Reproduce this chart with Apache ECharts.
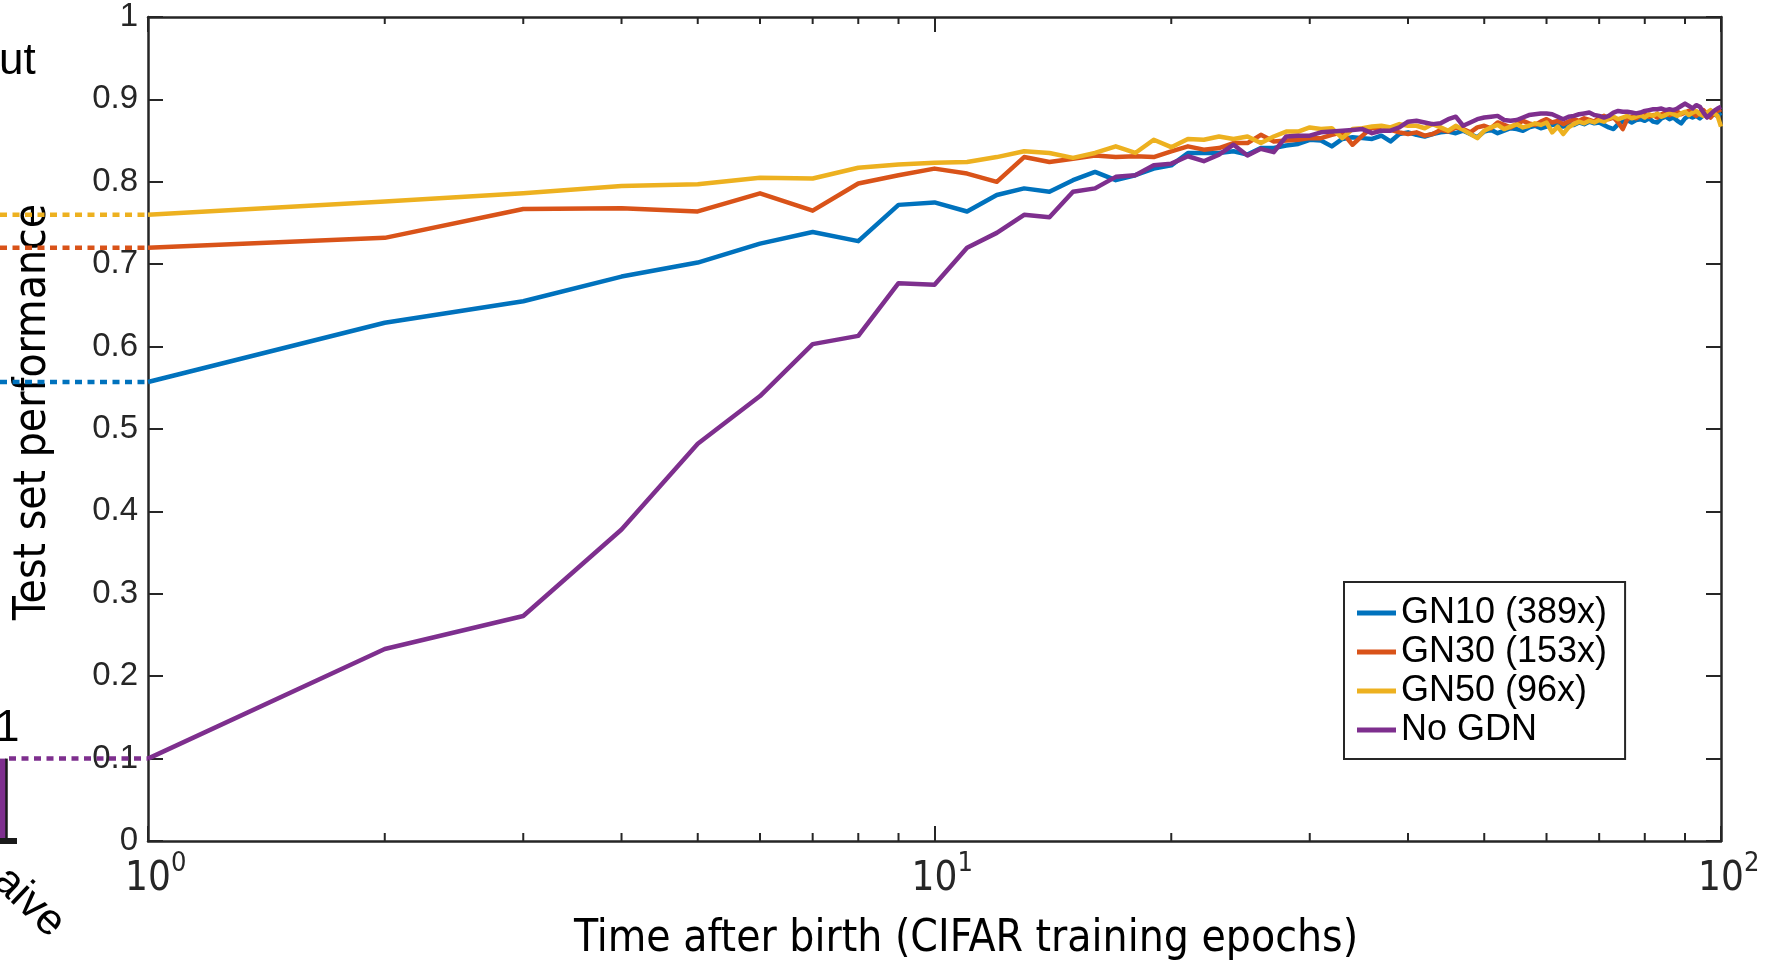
<!DOCTYPE html>
<html>
<head>
<meta charset="utf-8">
<script src="https://cdn.jsdelivr.net/npm/echarts@6/dist/echarts.min.js"></script>
<style>html,body{margin:0;padding:0;background:#fff}#c{width:1775px;height:968px}</style>
</head>
<body>
<div id="c"></div>
<script>
// ---------------- data ----------------
const epochs = [1,2,3,4,5,6,7,8,9,10,11,12,13,14,15,16,17,18,19,20,
  21,22,23,24,25,26,27,28,29,30,31,32,33,34,35,36,37,38,39,40,
  41,42,43,44,45,46,47,48,49,50,51,52,53,54,55,56,57,58,59,60,
  61,62,63,64,65,66,67,68,69,70,71,72,73,74,75,76,77,78,79,80,
  81,82,83,84,85,86,87,88,89,90,91,92,93,94,95,96,97,98,99,100];

const gn10 = [0.557,0.629,0.655,0.685,0.702,0.725,0.739,0.728,0.772,0.775,
  0.764,0.784,0.792,0.788,0.802,0.812,0.802,0.808,0.816,0.820,
  0.835,0.835,0.835,0.837,0.833,0.841,0.841,0.844,0.846,0.851,
  0.850,0.843,0.852,0.854,0.853,0.852,0.856,0.849,0.858,0.860,
  0.857,0.855,0.858,0.860,0.861,0.859,0.862,0.858,0.854,0.861,
  0.863,0.859,0.862,0.865,0.864,0.862,0.866,0.868,0.865,0.867,
  0.869,0.870,0.867,0.870,0.869,0.872,0.870,0.873,0.871,0.872,
  0.869,0.866,0.864,0.870,0.873,0.875,0.872,0.875,0.876,0.874,
  0.877,0.873,0.872,0.877,0.879,0.876,0.878,0.874,0.871,0.877,
  0.880,0.878,0.880,0.877,0.881,0.879,0.880,0.882,0.880,0.884];

const gn30 = [0.720,0.732,0.767,0.768,0.764,0.786,0.765,0.798,0.808,0.816,
  0.810,0.800,0.830,0.824,0.828,0.832,0.830,0.831,0.830,0.837,
  0.843,0.839,0.841,0.847,0.847,0.857,0.849,0.850,0.851,0.853,
  0.853,0.857,0.860,0.845,0.856,0.866,0.862,0.863,0.860,0.858,
  0.860,0.856,0.858,0.863,0.861,0.866,0.864,0.860,0.866,0.868,
  0.865,0.872,0.869,0.866,0.870,0.874,0.871,0.869,0.873,0.876,
  0.872,0.874,0.870,0.873,0.876,0.874,0.877,0.875,0.873,0.878,
  0.880,0.876,0.878,0.872,0.864,0.876,0.879,0.877,0.880,0.882,
  0.879,0.881,0.878,0.882,0.884,0.881,0.883,0.885,0.882,0.884,
  0.886,0.883,0.880,0.884,0.887,0.882,0.878,0.883,0.886,0.888];

const gn50 = [0.760,0.776,0.786,0.795,0.797,0.805,0.804,0.817,0.821,0.823,
  0.824,0.830,0.837,0.835,0.829,0.835,0.843,0.835,0.851,0.842,
  0.852,0.851,0.855,0.852,0.855,0.847,0.855,0.861,0.861,0.866,
  0.864,0.865,0.853,0.864,0.865,0.867,0.868,0.866,0.870,0.868,
  0.868,0.865,0.870,0.866,0.862,0.868,0.863,0.858,0.853,0.862,
  0.866,0.869,0.864,0.867,0.870,0.866,0.868,0.871,0.869,0.872,
  0.860,0.867,0.858,0.866,0.870,0.873,0.871,0.874,0.872,0.875,
  0.873,0.877,0.879,0.876,0.878,0.880,0.877,0.879,0.881,0.878,
  0.882,0.880,0.883,0.879,0.881,0.884,0.882,0.880,0.883,0.885,
  0.881,0.884,0.886,0.882,0.880,0.884,0.887,0.883,0.880,0.867];

const noGdn = [0.100,0.233,0.273,0.378,0.482,0.540,0.603,0.613,0.677,0.675,
  0.720,0.738,0.760,0.757,0.788,0.792,0.806,0.808,0.820,0.822,
  0.831,0.825,0.833,0.845,0.832,0.840,0.836,0.855,0.856,0.856,
  0.860,0.861,0.862,0.863,0.864,0.859,0.862,0.862,0.866,0.873,
  0.874,0.872,0.870,0.871,0.876,0.879,0.868,0.872,0.876,0.878,
  0.879,0.880,0.875,0.874,0.875,0.878,0.881,0.882,0.883,0.883,
  0.882,0.879,0.876,0.879,0.880,0.882,0.883,0.884,0.881,0.880,
  0.878,0.880,0.884,0.886,0.885,0.885,0.884,0.883,0.884,0.886,
  0.887,0.888,0.888,0.889,0.887,0.888,0.887,0.889,0.892,0.895,
  0.892,0.889,0.893,0.891,0.884,0.878,0.882,0.886,0.889,0.891];

const seriesNames = ['GN10 (389x)', 'GN30 (153x)', 'GN50 (96x)', 'No GDN'];
const xMajorTicks = [1, 10, 100];
const xMinorTicks = [2,3,4,5,6,7,8,9,20,30,40,50,60,70,80,90];
const naiveBarValue = 0.1;

// ---------------- styles ----------------
const AX = '#262626';
const colors = ['#0072BD', '#D95319', '#EDB120', '#7E2F8E'];
const SANS = "'Liberation Sans', Arial, sans-serif";
const NARROW = "'Liberation Sans Narrow', 'Arial Narrow', 'DejaVu Sans Condensed', sans-serif";
const COND = "'DejaVu Sans Condensed', 'Liberation Sans Narrow', sans-serif";
const allData = [gn10, gn30, gn50, noGdn];

const chart = echarts.init(document.getElementById('c'), null, {renderer: 'canvas', width: 1775, height: 968});

const mainSeries = allData.map((arr, i) => ({
  name: seriesNames[i],
  type: 'line',
  xAxisIndex: 0, yAxisIndex: 0,
  data: epochs.map((e, k) => [e, arr[k]]),
  showSymbol: false, symbol: 'none',
  lineStyle: {color: colors[i], width: 4.5, join: 'round'},
  itemStyle: {color: colors[i]},
  z: 3 + i, silent: true
}));

const leftPanelWidth = 148;
const dottedSeries = allData.map((arr, i) => ({
  type: 'line',
  xAxisIndex: 2, yAxisIndex: 2,
  data: [[i === 3 ? 9 : 0, arr[0]], [leftPanelWidth, arr[0]]],
  showSymbol: false, symbol: 'none', clip: false,
  lineStyle: {color: colors[i], width: 4.5, type: [7, 5.5], cap: 'butt'},
  z: 3, silent: true
}));

const minorTickSeries = {
  type: 'custom',
  xAxisIndex: 0, yAxisIndex: 0,
  silent: true, clip: false, z: 10,
  data: xMinorTicks.map(v => [v, 0]),
  renderItem: (params, api) => {
    const b = api.coord([api.value(0), 0]);
    const t = api.coord([api.value(0), 1]);
    return {type: 'group', children: [
      {type: 'line', shape: {x1: b[0], y1: b[1], x2: b[0], y2: b[1] - 8}, style: {stroke: AX, lineWidth: 2}},
      {type: 'line', shape: {x1: t[0], y1: t[1], x2: t[0], y2: t[1] + 7}, style: {stroke: AX, lineWidth: 2}}
    ]};
  }
};

const expFmt = v => {
  const e = Math.round(Math.log10(v));
  return '{sp|' + e + '}{b|10}{sup|' + e + '}';
};

const option = {
  animation: false,
  backgroundColor: '#fff',
  grid: [
    {left: 148, right: 54, top: 17, bottom: 127},
    {left: 0, width: leftPanelWidth, top: 17, bottom: 127}
  ],
  xAxis: [
    {type: 'log', logBase: 10, min: 1, max: 100, gridIndex: 0, position: 'bottom',
     axisLine: {show: true, onZero: false, lineStyle: {color: AX, width: 2.5}},
     axisTick: {show: true, inside: true, length: 15, lineStyle: {color: AX, width: 2}},
     splitLine: {show: false},
     axisLabel: {show: true, margin: 9, formatter: expFmt, customValues: xMajorTicks,
       rich: {
         b: {fontSize: 40, fontFamily: NARROW, color: AX, lineHeight: 42, verticalAlign: 'bottom'},
         sup: {fontSize: 27, fontFamily: NARROW, color: AX, lineHeight: 27, verticalAlign: 'top'},
         sp: {fontSize: 27, fontFamily: NARROW, color: 'rgba(0,0,0,0)', lineHeight: 50, verticalAlign: 'middle'}
       }}
    },
    {type: 'log', logBase: 10, min: 1, max: 100, gridIndex: 0, position: 'top',
     axisLine: {show: true, onZero: false, lineStyle: {color: AX, width: 2.5}},
     axisTick: {show: true, inside: true, length: 15, lineStyle: {color: AX, width: 2}},
     splitLine: {show: false}, axisLabel: {show: false}
    },
    {type: 'value', gridIndex: 1, min: 0, max: leftPanelWidth, show: false}
  ],
  yAxis: [
    {type: 'value', min: 0, max: 1, interval: 0.1, gridIndex: 0, position: 'left',
     axisLine: {show: true, onZero: false, lineStyle: {color: AX, width: 2.5}},
     axisTick: {show: true, inside: true, length: 15, lineStyle: {color: AX, width: 2}},
     splitLine: {show: false},
     axisLabel: {margin: 10, fontSize: 33, fontFamily: SANS, color: AX}
    },
    {type: 'value', min: 0, max: 1, interval: 0.1, gridIndex: 0, position: 'right',
     axisLine: {show: true, onZero: false, lineStyle: {color: AX, width: 2.5}},
     axisTick: {show: true, inside: true, length: 15, lineStyle: {color: AX, width: 2}},
     splitLine: {show: false}, axisLabel: {show: false}
    },
    {type: 'value', gridIndex: 1, min: 0, max: 1, show: false}
  ],
  legend: {
    data: seriesNames, orient: 'vertical', left: 1344, top: 582,
    padding: [13, 18, 11, 13], itemWidth: 39, itemHeight: 5, itemGap: 3, icon: 'rect',
    backgroundColor: '#fff', borderColor: AX, borderWidth: 2,
    textStyle: {fontSize: 36, lineHeight: 34, color: '#000', fontFamily: SANS},
    selectedMode: false
  },
  graphic: [
    {type: 'text', x: 34, y: 412, rotation: Math.PI / 2, silent: true,
     style: {text: 'Test set performance', fontSize: 44, fontFamily: COND, fill: '#000', textAlign: 'center', textVerticalAlign: 'middle'}},
    {type: 'text', x: 966, y: 940, silent: true,
     style: {text: 'Time after birth (CIFAR training epochs)', fontSize: 44, fontFamily: COND, fill: '#000', textAlign: 'center', textVerticalAlign: 'middle'}},
    {type: 'text', x: -1, y: 62, silent: true,
     style: {text: 'ut', fontSize: 44, fontFamily: SANS, fill: '#000', textAlign: 'left', textVerticalAlign: 'middle'}},
    {type: 'text', x: -5, y: 729, silent: true,
     style: {text: '1', fontSize: 44, fontFamily: SANS, fill: '#000', textAlign: 'left', textVerticalAlign: 'middle'}},
    {type: 'text', x: 58, y: 930, rotation: -0.76, silent: true,
     style: {text: 'aive', fontSize: 44, fontFamily: SANS, fill: '#000', textAlign: 'right', textVerticalAlign: 'middle'}}
  ],
  series: [
    ...dottedSeries,
    {type: 'bar', xAxisIndex: 2, yAxisIndex: 2, data: [[0, naiveBarValue]], barWidth: 12,
     itemStyle: {color: colors[3]}, silent: true, z: 2},
    {type: 'line', xAxisIndex: 2, yAxisIndex: 2, data: [[6.5, 0], [6.5, naiveBarValue]],
     showSymbol: false, symbol: 'none', clip: false, lineStyle: {color: '#1a1a1a', width: 2.5}, silent: true, z: 3},
    {type: 'line', xAxisIndex: 2, yAxisIndex: 2, data: [[0, 0], [17, 0]],
     showSymbol: false, symbol: 'none', clip: false, lineStyle: {color: '#1a1a1a', width: 6}, silent: true, z: 3},
    ...mainSeries,
    minorTickSeries
  ]
};
chart.setOption(option);
</script>
</body>
</html>
